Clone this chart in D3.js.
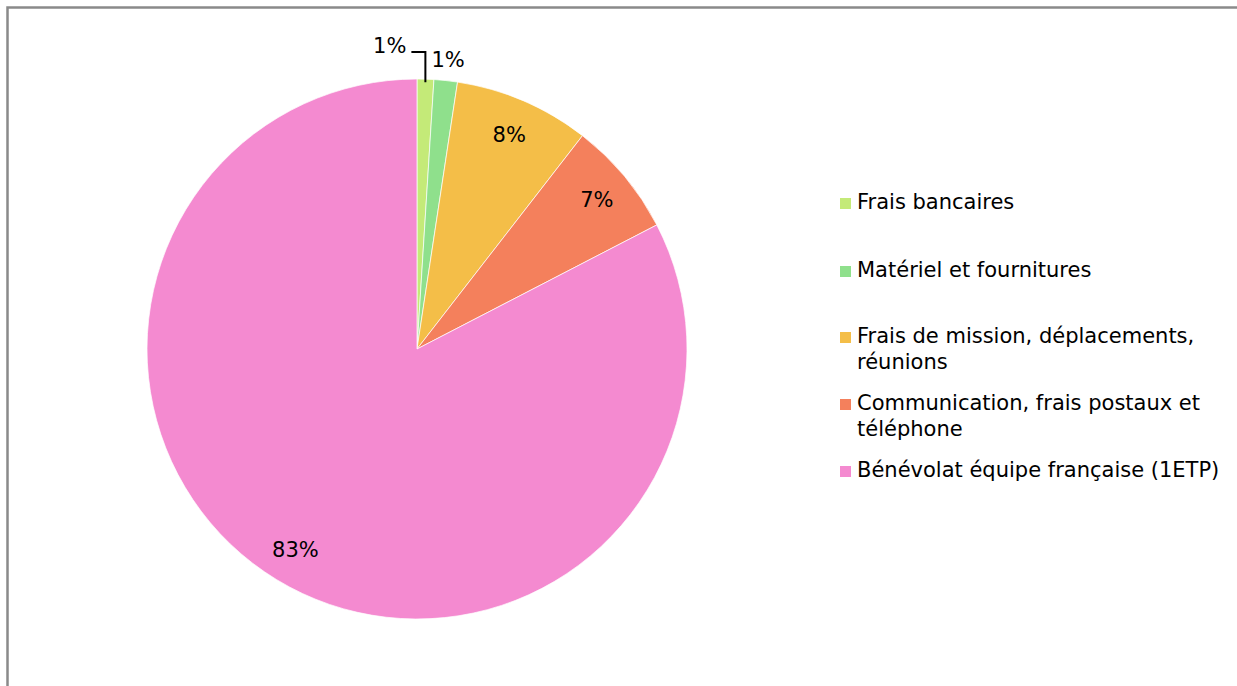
<!DOCTYPE html>
<html>
<head>
<meta charset="utf-8">
<script src="https://cdn.jsdelivr.net/npm/d3@7"></script>
<style>
    body { margin: 0; background: #fff; }
    svg { display: block; font-family: "DejaVu Sans", Verdana, sans-serif; }
</style>
</head>
<body>
<div id="chart"></div>
<script>

// chart data
const categories = [
    "Frais bancaires",
    "Matériel et fournitures",
    "Frais de mission, déplacements, réunions",
    "Communication, frais postaux et téléphone",
    "Bénévolat équipe française (1ETP)"
];
const legendLines = [
    ["Frais bancaires"],
    ["Matériel et fournitures"],
    ["Frais de mission, déplacements,", "réunions"],
    ["Communication, frais postaux et", "téléphone"],
    ["Bénévolat équipe française (1ETP)"]
];
const shares = [1.0, 1.4, 8.1, 6.9, 82.6];
const pctLabels = ["1%", "1%", "8%", "7%", "83%"];
const colors = ["#c4ea78", "#8fe08c", "#f4be48", "#f4805c", "#f48ad0"];

const width = 1237, height = 686;
const cx = 417, cy = 349, radius = 270;
const fontSize = 21;

let svg = d3.select("#chart").append("svg")
    .attr("width", width)
    .attr("height", height);

// outer frame (runs off the right and bottom edges)
svg.append("rect")
    .attr("x", 7.5)
    .attr("y", 7.5)
    .attr("width", width + 20)
    .attr("height", height + 20)
    .attr("fill", "none")
    .attr("stroke", "#8a8a8a")
    .attr("stroke-width", 2.5);

let pie = d3.pie().sort(null).value(d => d);
let arcs = pie(shares);

let arc = d3.arc().innerRadius(0).outerRadius(radius);
let labelArc = d3.arc().innerRadius(234).outerRadius(234);
let outerArc = d3.arc().innerRadius(292).outerRadius(292);
let edgeArc = d3.arc().innerRadius(267).outerRadius(267);

let g = svg.append("g")
    .attr("transform", "translate(" + cx + "," + cy + ")");

g.selectAll("path.slice")
    .data(arcs)
    .enter()
    .append("path")
    .attr("class", "slice")
    .attr("d", arc)
    .attr("fill", (d, i) => colors[i])
    .attr("stroke", "#fff")
    .attr("stroke-width", 0.7);

// labels: big slices inside, small slices outside
arcs.forEach((d, i) => {
    if (i === 0) {
        // leader line for the first tiny slice
        let p0 = edgeArc.centroid(d);
        let yTop = -297;
        g.append("polyline")
            .attr("points", [p0[0], p0[1], p0[0], yTop, p0[0] - 14, yTop].join(","))
            .attr("fill", "none")
            .attr("stroke", "#000")
            .attr("stroke-width", 2);
        g.append("text")
            .text(pctLabels[i])
            .attr("x", p0[0] - 19)
            .attr("y", yTop + 1)
            .attr("text-anchor", "end")
            .attr("font-size", fontSize)
            .attr("fill", "#000");
    } else if (i === 1) {
        let p = outerArc.centroid(d);
        g.append("text")
            .text(pctLabels[i])
            .attr("x", p[0])
            .attr("y", p[1] + 8)
            .attr("text-anchor", "middle")
            .attr("font-size", fontSize)
            .attr("fill", "#000");
    } else {
        let p = labelArc.centroid(d);
        g.append("text")
            .text(pctLabels[i])
            .attr("x", p[0])
            .attr("y", p[1] + 8)
            .attr("text-anchor", "middle")
            .attr("font-size", fontSize)
            .attr("fill", "#000");
    }
});

// legend
let legendTop = [198, 266, 332, 399, 466];
let legend = svg.append("g").attr("class", "legend");

categories.forEach((c, i) => {
    let item = legend.append("g")
        .attr("transform", "translate(840," + legendTop[i] + ")");
    item.append("rect")
        .attr("width", 11)
        .attr("height", 11)
        .attr("fill", colors[i]);
    legendLines[i].forEach((line, j) => {
        item.append("text")
            .text(line)
            .attr("x", 17)
            .attr("y", 11 + j * 26)
            .attr("font-size", fontSize)
            .attr("fill", "#000");
    });
});

</script>
</body>
</html>
